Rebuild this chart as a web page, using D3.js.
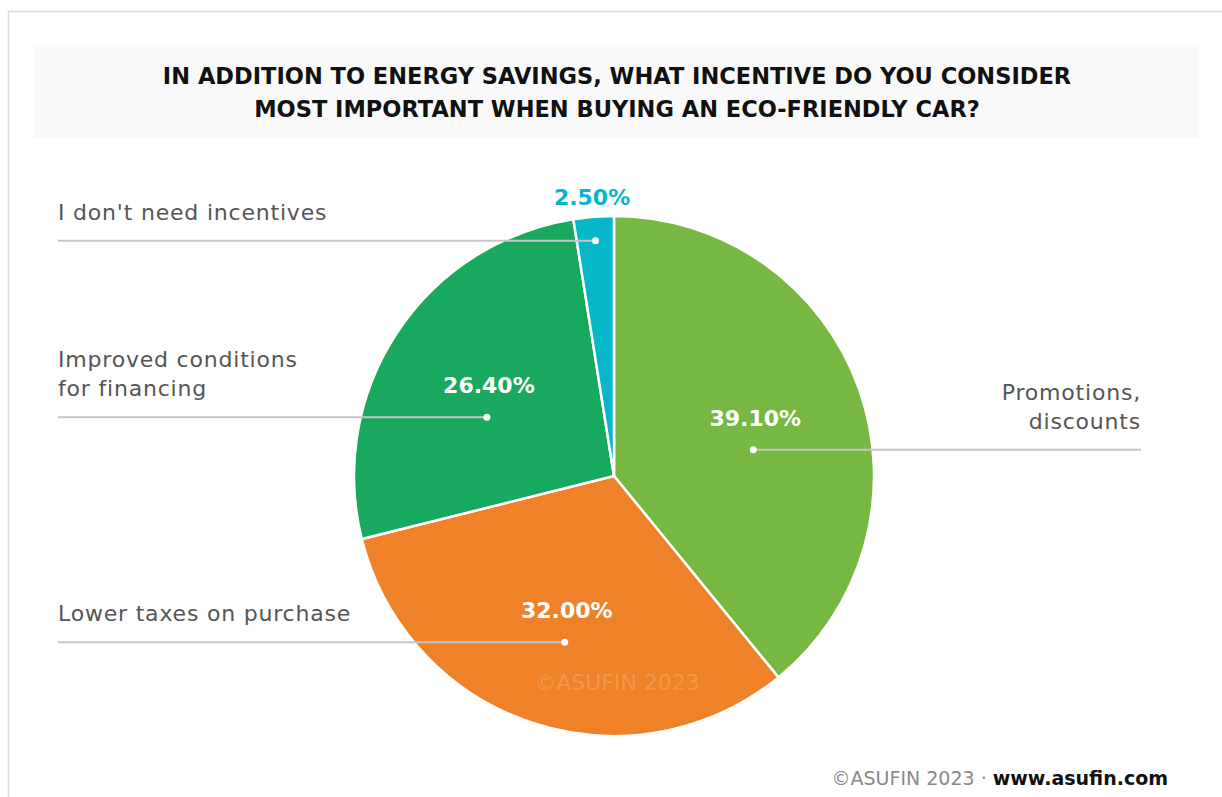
<!DOCTYPE html>
<html>
<head>
<meta charset="utf-8">
<script src="https://cdn.jsdelivr.net/npm/d3@7"></script>
<style>
  html, body { margin: 0; padding: 0; background: #fff; }
  svg { display: block; font-family: "DejaVu Sans", "Open Sans", sans-serif; }
</style>
</head>
<body>
<svg id="chart" width="1222" height="797"></svg>
<script>
// Survey answers, in drawing order (clockwise from 12 o'clock)
const categories = [
  "Promotions, discounts",
  "Lower taxes on purchase",
  "Improved conditions for financing",
  "I don't need incentives"
];
const shares = [39.1, 32.0, 26.4, 2.5];
const sliceColors = ["#77b843", "#ef8229", "#19a95e", "#06b6c9"];
// Category labels split into drawn lines
const labelLines = [
  ["Promotions,", "discounts"],
  ["Lower taxes on purchase"],
  ["Improved conditions", "for financing"],
  ["I don't need incentives"]
];
const titleLines = [
  "IN ADDITION TO ENERGY SAVINGS, WHAT INCENTIVE DO YOU CONSIDER",
  "MOST IMPORTANT WHEN BUYING AN ECO-FRIENDLY CAR?"
];

const W = 1222, H = 797;
const svg = d3.select("#chart");

// outer frame
svg.append("rect")
  .attr("x", 8.5).attr("y", 11.5)
  .attr("width", W + 20).attr("height", H + 20)
  .attr("fill", "none").attr("stroke", "#d9d9d9").attr("stroke-width", 1.5);

// title band
svg.append("rect")
  .attr("x", 34).attr("y", 45).attr("width", 1165).attr("height", 93)
  .attr("fill", "#f9f9f9");
svg.append("g").selectAll("text").data(titleLines).join("text")
  .attr("x", 617)
  .attr("y", (d, i) => 84 + i * 33)
  .attr("text-anchor", "middle")
  .attr("font-weight", 700)
  .attr("font-size", 22.5)
  .attr("fill", "#111")
  .text(d => d);

// pie
const cx = 614, cy = 476, R = 260;
const data = categories.map((c, i) => ({ cat: c, value: shares[i], color: sliceColors[i], lines: labelLines[i] }));
const pie = d3.pie().value(d => d.value).sort(null);
const arcs = pie(data);
const arc = d3.arc().innerRadius(0).outerRadius(R);

const g = svg.append("g").attr("transform", `translate(${cx},${cy})`);
g.selectAll("path.slice").data(arcs).join("path")
  .attr("class", "slice")
  .attr("d", arc)
  .attr("fill", d => d.data.color)
  .attr("stroke", "#fff")
  .attr("stroke-width", 2.5)
  .attr("stroke-linejoin", "round");

// watermark inside the chart
g.append("text")
  .attr("x", 3).attr("y", 214)
  .attr("text-anchor", "middle")
  .attr("font-size", 22)
  .attr("fill", "#fff").attr("fill-opacity", 0.18)
  .text("©ASUFIN 2023");

// label anchors: large slices get an inside label, small ones go outside
const pctFmt = v => d3.format(".2f")(v) + "%";
const lab = arcs.map(a => {
  const mid = (a.startAngle + a.endAngle) / 2;
  const small = a.data.value < 5;
  const rl = small ? 280 : 150;
  const lx = rl * Math.sin(mid), ly = -rl * Math.cos(mid);
  let dx, dy, base;
  if (small) {
    dx = 236 * Math.sin(mid); dy = -236 * Math.cos(mid);
    base = ly + 8;
  } else {
    dx = lx - 2; dy = ly + 24;
    base = ly;
  }
  const side = Math.sin(mid) >= 0 ? "right" : "left";
  return { a, lx, ly, base, dx, dy, small, side };
});

// leader lines to the page margins
const leftX = 58 - cx, rightX = 1141 - cx;
g.selectAll("line.leader").data(lab).join("line")
  .attr("class", "leader")
  .attr("x1", d => d.dx).attr("y1", d => d.dy)
  .attr("x2", d => d.side === "right" ? rightX : leftX).attr("y2", d => d.dy)
  .attr("stroke", "#c6c6c6").attr("stroke-width", 2);
g.selectAll("circle.dot").data(lab).join("circle")
  .attr("class", "dot")
  .attr("cx", d => d.dx).attr("cy", d => d.dy).attr("r", 3.5)
  .attr("fill", "#fff");

// percentage labels
g.selectAll("text.pct").data(lab).join("text")
  .attr("class", "pct")
  .attr("x", d => d.lx).attr("y", d => d.base)
  .attr("text-anchor", "middle")
  .attr("font-weight", 700)
  .attr("font-size", 22)
  .attr("fill", d => d.small ? d.a.data.color : "#fff")
  .text(d => pctFmt(d.a.data.value));

// category labels above each leader line
lab.forEach(d => {
  const lines = d.a.data.lines;
  const t = g.append("text")
    .attr("text-anchor", d.side === "right" ? "end" : "start")
    .attr("font-size", 22)
    .attr("letter-spacing", 0.8)
    .attr("fill", "#555");
  lines.forEach((ln, i) => {
    t.append("tspan")
      .attr("x", d.side === "right" ? rightX : leftX)
      .attr("y", d.dy - 21 - (lines.length - 1 - i) * 29)
      .text(ln);
  });
});

// footer credit
const foot = svg.append("text")
  .attr("x", 1168).attr("y", 785)
  .attr("text-anchor", "end")
  .attr("font-size", 19);
foot.append("tspan").attr("fill", "#8a8a8a").text("©ASUFIN 2023 · ");
foot.append("tspan").attr("fill", "#111").attr("font-weight", 600).text("www.asufin.com");
</script>
</body>
</html>
